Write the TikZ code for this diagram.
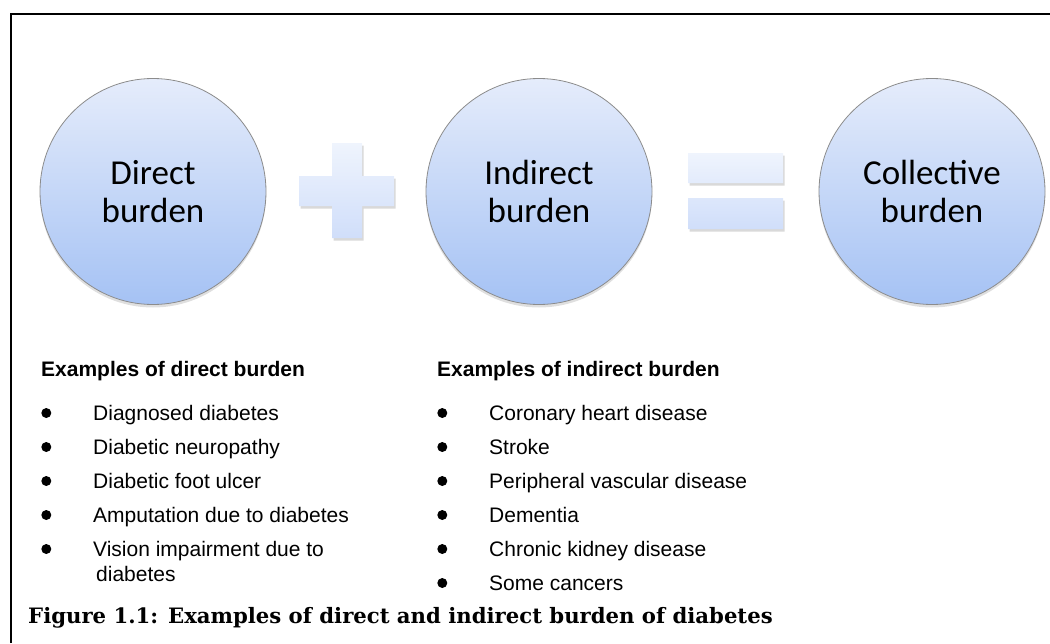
\documentclass[tikz,border=0pt]{standalone}
\usepackage{fontspec}
\newfontfamily\calibri{Carlito}
\newfontfamily\arial{Liberation Sans}
\newfontfamily\capserif{DejaVu Serif}
\usetikzlibrary{positioning,shadows}

\definecolor{circtop}{RGB}{229,236,251}
\definecolor{circbot}{RGB}{165,194,244}
\definecolor{signtop}{RGB}{239,244,253}
\definecolor{signbot}{RGB}{208,222,250}

\begin{document}
\begin{tikzpicture}[x=1pt,y=-1pt,
    burden node/.style={circle,draw=gray!90,line width=0.8pt,minimum size=226pt,inner sep=0pt,
      top color=circtop,bottom color=circbot,align=center,
      font=\calibri\fontsize{35}{38}\selectfont,
      drop shadow={shadow xshift=0pt,shadow yshift=-3pt,opacity=0.25}},
    sign shape/.style={top color=signtop,bottom color=signbot,
      drop shadow={shadow xshift=1.5pt,shadow yshift=-2.5pt,opacity=0.3}},
    list head/.style={anchor=base west,inner sep=0pt,font=\arial\bfseries\fontsize{21}{25}\selectfont},
    list item/.style={anchor=base west,inner sep=0pt,font=\arial\fontsize{21}{25}\selectfont},
    below item/.style={below=34pt of #1.base west,anchor=base west},
    item dot/.style={circle,fill=black,minimum size=10pt,inner sep=0pt},
    dot for/.style={item dot,left=41.5pt of #1.base west,yshift=7pt},
    fig caption/.style={anchor=base west,inner sep=0pt,font=\capserif\bfseries\fontsize{21.2}{25}\selectfont}]

  \useasboundingbox (0,0) rectangle (1050,643);
  \draw[line width=2pt] (11,643) -- (11,14) -- (1051,14);

  % the three burdens
  \node[burden node] (direct) at (153,191.5) {Direct\\burden};
  \node[burden node] (indirect) at (539,191.5) {Indirect\\burden};
  \node[burden node] (collective) at (932,191.5) {Collective\\burden};

  % plus and equals
  \path[sign shape] (299,176) -| (332,143) -| (362,176) -| (394,206)
    -| (362,238) -| (332,206) -| (299,176) -- cycle;
  \path[sign shape] (688,153) rectangle (783,183) (688,198) rectangle (783,229);

  % direct examples
  \node[list head] (dirhead) at (41,376) {Examples of direct burden};
  \node[list item] (d1) at (93,420) {Diagnosed diabetes};
  \node[list item,below item=d1] (d2) {Diabetic neuropathy};
  \node[list item,below item=d2] (d3) {Diabetic foot ulcer};
  \node[list item,below item=d3] (d4) {Amputation due to diabetes};
  \node[list item,below item=d4] (d5) {Vision impairment due to};
  \node[list item,below=25pt of d5.base west,anchor=base west,xshift=3pt] (d6) {diabetes};
  \node[dot for=d1] (dd1) {};
  \node[dot for=d2] (dd2) {};
  \node[dot for=d3] (dd3) {};
  \node[dot for=d4] (dd4) {};
  \node[dot for=d5] (dd5) {};

  % indirect examples
  \node[list head] (indhead) at (437,376) {Examples of indirect burden};
  \node[list item] (i1) at (489,420) {Coronary heart disease};
  \node[list item,below item=i1] (i2) {Stroke};
  \node[list item,below item=i2] (i3) {Peripheral vascular disease};
  \node[list item,below item=i3] (i4) {Dementia};
  \node[list item,below item=i4] (i5) {Chronic kidney disease};
  \node[list item,below item=i5] (i6) {Some cancers};
  \node[dot for=i1] (di1) {};
  \node[dot for=i2] (di2) {};
  \node[dot for=i3] (di3) {};
  \node[dot for=i4] (di4) {};
  \node[dot for=i5] (di5) {};
  \node[dot for=i6] (di6) {};

  \node[fig caption] (caption) at (28,623) {Figure 1.1: Examples of direct and indirect burden of diabetes};
\end{tikzpicture}
\end{document}
